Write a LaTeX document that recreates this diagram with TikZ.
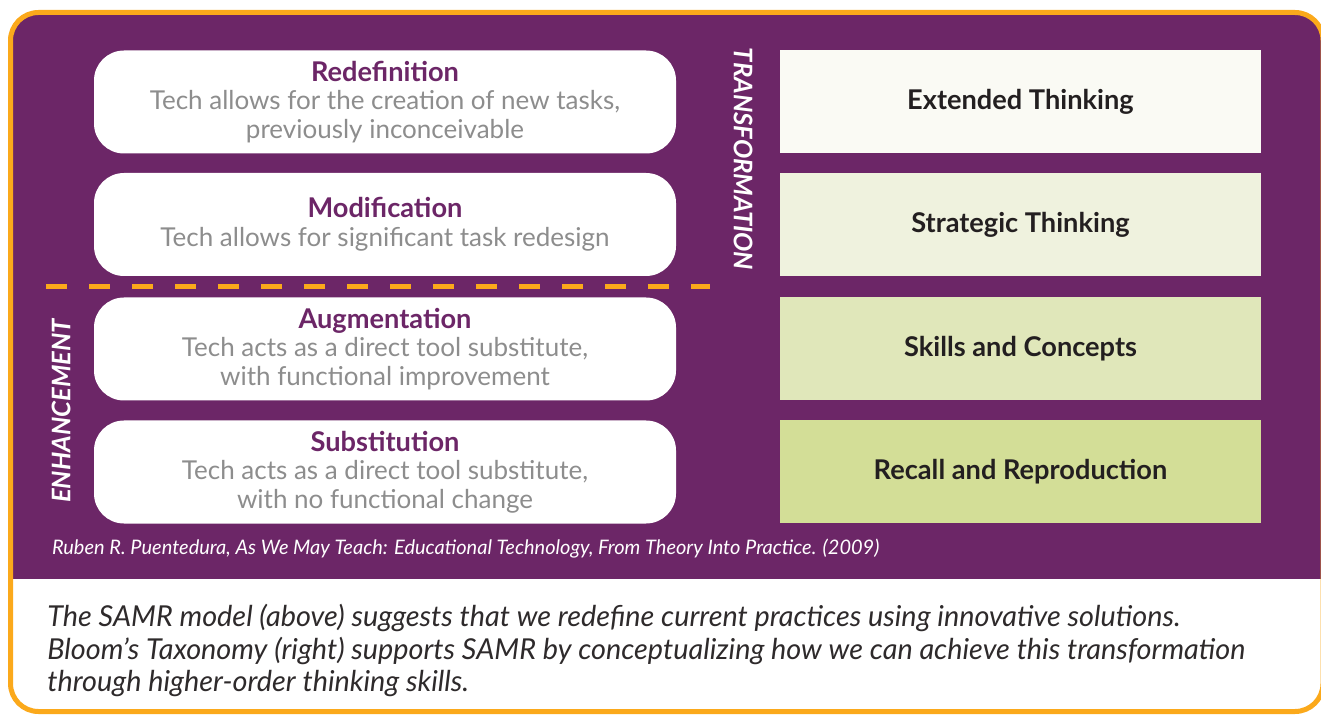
\documentclass[tikz,border=0pt]{standalone}
\usepackage{fontspec}
\setmainfont{Lato}
\usepackage{tikz}
\usetikzlibrary{positioning}
\definecolor{samrpurple}{HTML}{6C2667}
\definecolor{samrorange}{HTML}{FBA91B}
\definecolor{techgray}{HTML}{8D8D8D}
\definecolor{bloomink}{HTML}{231F20}
\definecolor{bloomA}{HTML}{FAFAF4}
\definecolor{bloomB}{HTML}{EFF2DE}
\definecolor{bloomC}{HTML}{E0E7BA}
\definecolor{bloomD}{HTML}{D3DE97}
\tikzset{
  samrbox/.style={rectangle,rounded corners=15pt,fill=white,inner sep=0pt,
    minimum width=291pt,minimum height=51.5pt,align=center,text=techgray,
    font=\fontsize{13}{14.3}\selectfont},
  bloombox/.style={rectangle,inner sep=0pt,minimum width=240.5pt,minimum height=51.5pt,
    text=bloomink,font=\fontsize{13.6}{15}\selectfont\bfseries},
  phaselabel/.style={text=white,font=\fontsize{12.8}{14}\selectfont\bfseries\itshape},
  phaseline/.style={samrorange,line width=2.5pt,dash pattern=on 10.5pt off 11pt}
}
\newcommand{\samrtitle}[1]{{\color{samrpurple}\fontsize{13.6}{14.3}\selectfont\bfseries #1}}
\begin{document}
\begin{tikzpicture}[x=0.5pt,y=-0.5pt]
\useasboundingbox (0,0) rectangle (1321,715);
\fill[white] (0,0) rectangle (1321,715);
% purple panel and orange frame
\begin{scope}
\clip[rounded corners=14pt] (10,12) rectangle (1323,712);
\fill[samrpurple] (0,0) rectangle (1325,579);
\end{scope}
\draw[samrorange,line width=2.5pt,rounded corners=14pt] (10.5,12.5) rectangle (1323,711.5);

% SAMR levels
\node[samrbox] (redef) at (385,102) {\samrtitle{Redefinition}\\Tech allows for the creation of new tasks,\\previously inconceivable};
\node[samrbox] (modif) at (385,224.5) {\samrtitle{Modification}\\Tech allows for significant task redesign};
\node[samrbox] (augm) at (385,349) {\samrtitle{Augmentation}\\Tech acts as a direct tool substitute,\\with functional improvement};
\node[samrbox] (subst) at (385,472) {\samrtitle{Substitution}\\Tech acts as a direct tool substitute,\\with no functional change};

% Bloom levels
\node[bloombox,fill=bloomA] (extth) at (1020.5,101.5) {Extended Thinking};
\node[bloombox,fill=bloomB] (strth) at (1020.5,224.5) {Strategic Thinking};
\node[bloombox,fill=bloomC] (skill) at (1020.5,348.5) {Skills and Concepts};
\node[bloombox,fill=bloomD] (recall) at (1020.5,471.5) {Recall and Reproduction};

\node[phaselabel,rotate=-90] (transf) at (743,159) {TRANSFORMATION};
\node[phaselabel,rotate=90] (enhanc) at (61,411) {ENHANCEMENT};

\coordinate (dashL) at (46,287);
\coordinate (dashR) at (710,287);
\draw[phaseline] (dashL) -- (dashR);

\node[anchor=west,text=white,font=\fontsize{10}{12}\selectfont\itshape] (cite) at (45,549)
  {Ruben R. Puentedura, As We May Teach: Educational Technology, From Theory Into Practice. (2009)};

\node[anchor=north west,align=left,inner sep=0pt,text=bloomink!95,font=\fontsize{14.4}{16.2}\selectfont\itshape] (caption) at (47,604)
  {The SAMR model (above) suggests that we redefine current practices using innovative solutions.\\
   Bloom’s Taxonomy (right) supports SAMR by conceptualizing how we can achieve this transformation\\
   through higher-order thinking skills.};
\end{tikzpicture}
\end{document}
